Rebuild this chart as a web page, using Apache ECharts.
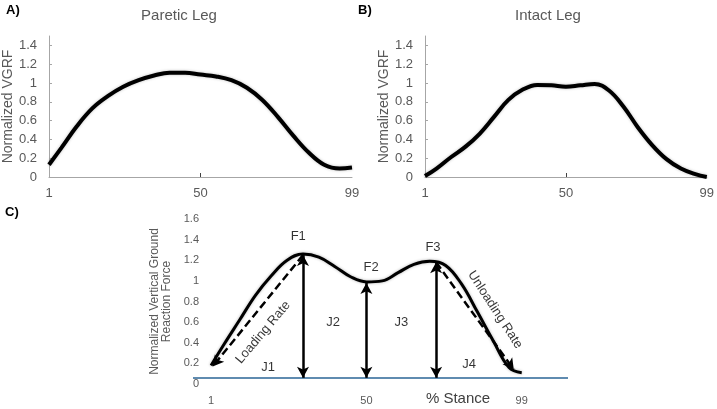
<!DOCTYPE html>
<html>
<head>
<meta charset="utf-8">
<script src="https://cdn.jsdelivr.net/npm/echarts@6/dist/echarts.min.js"></script>
<style>
  html, body { margin: 0; padding: 0; background: #fff; }
  #main { width: 717px; height: 409px; }
</style>
</head>
<body>
<div id="main"></div>
<script>
// % stance sample points (shared by all three panels)
var stance = [1, 5, 10, 15, 20, 25, 30, 35, 40, 45, 50, 55, 60, 65, 70, 75, 80, 85, 90, 95, 99];
// A) paretic leg, normalized VGRF
var paretic = [0.13, 0.31, 0.54, 0.73, 0.86, 0.96, 1.03, 1.08, 1.11, 1.11, 1.09, 1.07, 1.03, 0.95, 0.82, 0.64, 0.44, 0.26, 0.13, 0.09, 0.10];
// B) intact leg
var intact = [0.01, 0.09, 0.21, 0.32, 0.46, 0.64, 0.82, 0.93, 0.98, 0.975, 0.96, 0.975, 0.99, 0.92, 0.75, 0.53, 0.34, 0.19, 0.09, 0.03, 0.00];
// C) schematic curve
var schematic = [0.18, 0.38, 0.62, 0.86, 1.05, 1.20, 1.26, 1.23, 1.14, 1.04, 0.99, 1.00, 1.08, 1.16, 1.19, 1.15, 0.97, 0.70, 0.42, 0.16, 0.11];

var xTicks = [1, 50, 99];
var yTicksAB = [0, 0.2, 0.4, 0.6, 0.8, 1, 1.2, 1.4];

// C) peaks F1, F2, F3 and the baseline the arrows stand on
var peakX = [30, 50, 72];
var peakY = [1.25, 0.98, 1.18];
var baseline = 0.06;
var loadingFrom = [30, 1.25], loadingTo = [1.5, 0.17];
var unloadingFrom = [72, 1.18], unloadingTo = [96.5, 0.14];

var gray = '#595959';
var axisGray = '#a6a6a6';

function pairs(xs, ys) {
  return xs.map(function (x, i) { return [x, ys[i]]; });
}

// text notes on panel C
var notes = [
  { t: 'F1', c: [28.5, 1.43] },
  { t: 'F2', c: [51.5, 1.13] },
  { t: 'F3', c: [71, 1.32] },
  { t: 'J1', c: [19, 0.165] },
  { t: 'J2', c: [39.5, 0.6] },
  { t: 'J3', c: [61, 0.6] },
  { t: 'J4', c: [82.4, 0.19] },
  { t: 'Loading Rate', c: [17.4, 0.5], r: 50 },
  { t: 'Unloading Rate', c: [90.6, 0.72], r: -57 }
];

function abX(g) {
  return {
    type: 'value', gridIndex: g, min: 1, max: 99,
    axisLine: { lineStyle: { color: axisGray } },
    axisTick: { inside: true, length: 4, customValues: [50], lineStyle: { color: '#404040' } },
    axisLabel: { customValues: xTicks, color: gray, fontSize: 13, margin: 10 },
    splitLine: { show: false }
  };
}
function abY(g) {
  return {
    type: 'value', gridIndex: g, min: 0, max: 1.5,
    axisLine: { show: true, lineStyle: { color: axisGray } },
    axisTick: { show: true, inside: true, length: 3, customValues: yTicksAB, lineStyle: { color: axisGray } },
    axisLabel: { customValues: yTicksAB, color: gray, fontSize: 13, margin: 12 },
    splitLine: { show: false },
    name: 'Normalized VGRF', nameLocation: 'middle', nameGap: 28,
    nameTextStyle: { color: gray, fontSize: 14 }
  };
}

var chart = echarts.init(document.getElementById('main'));
chart.setOption({
  animation: false,
  title: [
    { text: 'A)', left: 6, top: 4, padding: 0, textStyle: { fontSize: 13, fontWeight: 'bold', color: '#000' } },
    { text: 'Paretic Leg', left: 179, top: 8, padding: 0, textAlign: 'center', textStyle: { fontSize: 15, fontWeight: 'normal', color: gray } },
    { text: 'B)', left: 358, top: 4, padding: 0, textStyle: { fontSize: 13, fontWeight: 'bold', color: '#000' } },
    { text: 'Intact Leg', left: 548, top: 8, padding: 0, textAlign: 'center', textStyle: { fontSize: 15, fontWeight: 'normal', color: gray } },
    { text: 'C)', left: 5, top: 206, padding: 0, textStyle: { fontSize: 13, fontWeight: 'bold', color: '#000' } },
    { text: '% Stance', left: 458, top: 391, padding: 0, textAlign: 'center', textStyle: { fontSize: 15, fontWeight: 'normal', color: '#404040' } }
  ],
  grid: [
    { left: 49, top: 36, width: 303, height: 141 },
    { left: 425, top: 36, width: 285, height: 141 },
    { left: 193, top: 219, width: 375, height: 165 }
  ],
  xAxis: [
    abX(0),
    abX(1),
    {
      type: 'value', gridIndex: 2, min: -4.7, max: 113.6,
      axisLine: { show: false }, axisTick: { show: false },
      axisLabel: { customValues: xTicks, color: gray, fontSize: 11, margin: 11 },
      splitLine: { show: false }
    }
  ],
  yAxis: [
    abY(0),
    abY(1),
    {
      type: 'value', gridIndex: 2, min: 0, max: 1.6, interval: 0.2,
      axisLine: { show: false }, axisTick: { show: false },
      axisLabel: { color: gray, fontSize: 11, margin: -6 },
      splitLine: { show: false },
      name: 'Normalized Vertical Ground\nReaction Force', nameLocation: 'middle', nameGap: 17,
      nameTextStyle: { color: gray, fontSize: 12, lineHeight: 12 }
    }
  ],
  series: [
    {
      type: 'line', xAxisIndex: 0, yAxisIndex: 0, data: pairs(stance, paretic),
      smooth: 0.4, showSymbol: false,
      lineStyle: { color: '#000', width: 4, shadowColor: 'rgba(0,0,0,0.25)', shadowBlur: 3 }
    },
    {
      type: 'line', xAxisIndex: 1, yAxisIndex: 1, data: pairs(stance, intact),
      smooth: 0.4, showSymbol: false,
      lineStyle: { color: '#000', width: 4, shadowColor: 'rgba(0,0,0,0.25)', shadowBlur: 3 }
    },
    {
      // baseline
      type: 'line', xAxisIndex: 2, yAxisIndex: 2, data: [],
      markLine: {
        silent: true, symbol: 'none', label: { show: false },
        lineStyle: { color: '#2a6496', width: 1.5, type: 'solid' },
        data: [{ yAxis: baseline }]
      }
    },
    {
      type: 'line', xAxisIndex: 2, yAxisIndex: 2, data: pairs(stance, schematic),
      smooth: 0.4, showSymbol: false, z: 3,
      lineStyle: { color: '#000', width: 3, shadowColor: 'rgba(0,0,0,0.3)', shadowBlur: 3 }
    },
    {
      // F1/F2/F3 double arrows
      type: 'line', xAxisIndex: 2, yAxisIndex: 2, data: [], z: 4,
      markLine: {
        silent: true, symbol: ['arrow', 'arrow'], symbolSize: [9, 11], label: { show: false },
        lineStyle: { color: '#000', width: 2.5, type: 'solid' },
        data: peakX.map(function (x, i) {
          return [{ coord: [x, baseline] }, { coord: [x, peakY[i]] }];
        })
      }
    },
    {
      // loading / unloading rate
      type: 'line', xAxisIndex: 2, yAxisIndex: 2, data: [], z: 4,
      markLine: {
        silent: true, symbol: ['none', 'arrow'], symbolSize: [9, 11], label: { show: false },
        lineStyle: { color: '#000', width: 2.5, type: [8, 4] },
        data: [
          [{ coord: loadingFrom }, { coord: loadingTo }],
          [{ coord: unloadingFrom }, { coord: unloadingTo }]
        ]
      }
    },
    {
      type: 'scatter', xAxisIndex: 2, yAxisIndex: 2, symbolSize: 0, silent: true, z: 5,
      label: {
        show: true, position: 'inside', color: '#000', fontSize: 13,
        formatter: function (p) { return p.data.name; }
      },
      data: notes.map(function (n) {
        return { name: n.t, value: n.c, label: { rotate: n.r || 0 } };
      })
    }
  ]
});
</script>
</body>
</html>
